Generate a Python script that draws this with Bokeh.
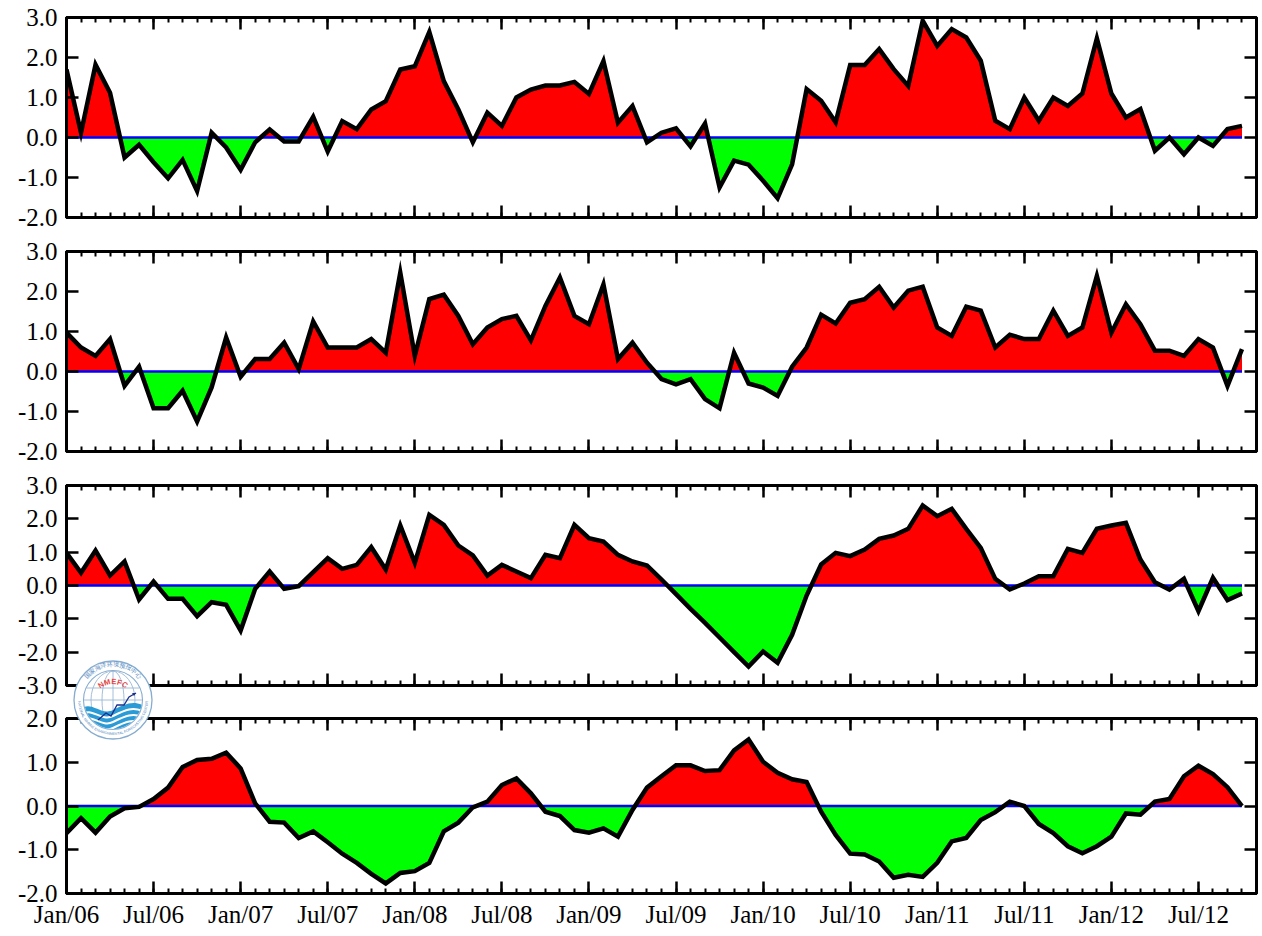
import numpy as np
from bokeh.plotting import figure
from bokeh.models import Range1d, FixedTicker, LinearAxis, PrintfTickFormatter, Div
from bokeh.layouts import column
from bokeh.embed import file_html
from bokeh.resources import INLINE

# ---------------- data ----------------
tick_labels = ["Jan/06", "Jul/06", "Jan/07", "Jul/07", "Jan/08", "Jul/08", "Jan/09",
               "Jul/09", "Jan/10", "Jul/10", "Jan/11", "Jul/11", "Jan/12", "Jul/12"]

s1 = [1.70, 0.12, 1.82, 1.12, -0.50, -0.18, -0.62, -1.02, -0.56, -1.34, 0.12, -0.25,
      -0.81, -0.12, 0.20, -0.10, -0.10, 0.52, -0.35, 0.41, 0.21, 0.70, 0.91, 1.70,
      1.78, 2.64, 1.41, 0.70, -0.12, 0.62, 0.29, 1.00, 1.20, 1.30, 1.30, 1.39,
      1.09, 1.91, 0.37, 0.79, -0.12, 0.12, 0.23, -0.22, 0.35, -1.25, -0.58, -0.68,
      -1.08, -1.52, -0.67, 1.21, 0.92, 0.38, 1.81, 1.81, 2.21, 1.71, 1.29, 2.92,
      2.29, 2.71, 2.50, 1.92, 0.42, 0.21, 1.00, 0.42, 1.00, 0.79, 1.10, 2.48,
      1.10, 0.50, 0.71, -0.33, 0.00, -0.42, 0.00, -0.21, 0.21, 0.29]

s2 = [0.97, 0.60, 0.39, 0.81, -0.36, 0.12, -0.92, -0.92, -0.48, -1.25, -0.40, 0.85,
      -0.13, 0.31, 0.31, 0.72, 0.06, 1.25, 0.60, 0.60, 0.60, 0.81, 0.47, 2.47,
      0.39, 1.81, 1.92, 1.39, 0.68, 1.10, 1.31, 1.39, 0.78, 1.64, 2.35, 1.39,
      1.18, 2.18, 0.31, 0.72, 0.22, -0.19, -0.32, -0.19, -0.69, -0.92, 0.47, -0.30,
      -0.40, -0.61, 0.12, 0.60, 1.42, 1.20, 1.72, 1.81, 2.12, 1.60, 2.02, 2.12,
      1.10, 0.89, 1.62, 1.52, 0.60, 0.92, 0.81, 0.81, 1.52, 0.89, 1.10, 2.39,
      0.97, 1.68, 1.18, 0.52, 0.52, 0.39, 0.81, 0.60, -0.36, 0.56]

s3 = [0.98, 0.38, 1.05, 0.30, 0.72, -0.42, 0.12, -0.40, -0.40, -0.92, -0.50, -0.58,
      -1.35, -0.10, 0.42, -0.10, -0.02, 0.40, 0.82, 0.50, 0.62, 1.15, 0.48, 1.80,
      0.68, 2.12, 1.82, 1.20, 0.90, 0.30, 0.62, 0.42, 0.22, 0.92, 0.82, 1.82,
      1.42, 1.32, 0.92, 0.72, 0.60, 0.18, -0.26, -0.70, -1.12, -1.56, -2.00, -2.43,
      -1.98, -2.32, -1.48, -0.30, 0.63, 0.98, 0.88, 1.08, 1.40, 1.50, 1.70, 2.40,
      2.08, 2.30, 1.70, 1.13, 0.20, -0.12, 0.06, 0.28, 0.28, 1.10, 0.98, 1.70,
      1.80, 1.88, 0.78, 0.10, -0.12, 0.20, -0.77, 0.23, -0.44, -0.24]

s4 = [-0.62, -0.28, -0.61, -0.24, -0.05, -0.02, 0.16, 0.42, 0.89, 1.05, 1.08, 1.22,
      0.86, 0.06, -0.36, -0.38, -0.73, -0.58, -0.83, -1.09, -1.30, -1.55, -1.77, -1.53,
      -1.49, -1.30, -0.58, -0.38, -0.03, 0.10, 0.48, 0.63, 0.29, -0.13, -0.23, -0.55,
      -0.61, -0.51, -0.70, -0.09, 0.42, 0.68, 0.93, 0.93, 0.80, 0.82, 1.27, 1.52,
      1.01, 0.76, 0.61, 0.55, -0.13, -0.66, -1.09, -1.11, -1.27, -1.64, -1.57, -1.62,
      -1.30, -0.81, -0.73, -0.32, -0.14, 0.10, 0.00, -0.41, -0.62, -0.92, -1.08, -0.92,
      -0.70, -0.17, -0.20, 0.10, 0.16, 0.68, 0.92, 0.73, 0.43, 0.00]

y_ranges = [(-2.0, 3.0), (-2.0, 3.0), (-3.0, 3.0), (-2.0, 2.0)]

# ---------------- layout constants (pixels) ----------------
FONT = "'Liberation Serif', 'Times New Roman', serif"
W = 1260
B_LEFT, B_RIGHT = 66, 4
# (border_top, frame_height, border_bottom)
geo = [(17, 200, 16), (18, 200, 16), (18, 200, 16), (17, 175, 37)]

n = len(s1)
months = np.arange(n, dtype=float)
major = list(range(0, 6 * len(tick_labels), 6))
minor = list(range(0, n + 1))


def split_fill(x, y):
    xs, ys = [x[0]], [y[0]]
    for k in range(len(y) - 1):
        y0, y1 = y[k], y[k + 1]
        if y0 * y1 < 0:
            t = y0 / (y0 - y1)
            xs.append(x[k] + t * (x[k + 1] - x[k]))
            ys.append(0.0)
        xs.append(x[k + 1])
        ys.append(y1)
    xs = np.array(xs)
    ys = np.array(ys)
    return xs, np.maximum(ys, 0.0), np.minimum(ys, 0.0)


def style_axis(ax, labels, with_minor, overrides=None):
    ax.axis_line_color = "black"
    ax.axis_line_width = 3
    ax.major_tick_in = 12
    ax.major_tick_out = 0
    ax.major_tick_line_width = 2.5
    ax.major_tick_line_color = "black"
    if with_minor:
        ax.minor_tick_in = 5
        ax.minor_tick_out = 0
        ax.minor_tick_line_width = 2
        ax.minor_tick_line_color = "black"
    else:
        ax.minor_tick_line_color = None
    if labels:
        ax.major_label_text_font = FONT
        ax.major_label_text_font_size = "25px"
        ax.major_label_text_color = "black"
    else:
        ax.major_label_text_font_size = "1px"
        ax.major_label_text_color = None
        ax.major_label_standoff = 0
    if overrides:
        ax.major_label_overrides = overrides


panels = []
series = [s1, s2, s3, s4]
for k, (s, yr, (bt, fh, bb)) in enumerate(zip(series, y_ranges, geo)):
    last = k == len(series) - 1
    p = figure(width=W, height=bt + fh + bb,
               x_range=Range1d(0, n), y_range=Range1d(*yr),
               output_backend="svg", toolbar_location=None,
               x_axis_location=None, y_axis_location=None,
               min_border_left=B_LEFT, min_border_right=B_RIGHT,
               min_border_top=bt, min_border_bottom=bb)
    p.xgrid.visible = False
    p.ygrid.visible = False
    p.outline_line_color = "black"
    p.outline_line_width = 3
    p.outline_line_alpha = 1.0
    p.background_fill_color = "white"
    p.border_fill_color = "white"

    xt = FixedTicker(ticks=major, minor_ticks=minor)
    yt = FixedTicker(ticks=list(np.arange(yr[0], yr[1] + 0.5, 1.0)))

    xb = LinearAxis(ticker=xt)
    style_axis(xb, last, True, {m: lab for m, lab in zip(major, tick_labels)} if last else None)
    if last:
        xb.major_label_standoff = 7
    p.add_layout(xb, "below")

    xa = LinearAxis(ticker=xt)
    style_axis(xa, False, True)
    p.add_layout(xa, "above")

    yl = LinearAxis(ticker=yt, formatter=PrintfTickFormatter(format="%.1f"))
    style_axis(yl, True, False)
    yl.major_label_standoff = 9
    p.add_layout(yl, "left")

    yrax = LinearAxis(ticker=yt)
    style_axis(yrax, False, False)
    p.add_layout(yrax, "right")

    xs, pos, neg = split_fill(months, np.array(s, dtype=float))
    p.varea(x=xs, y1=0.0, y2=pos, fill_color="#ff0000")
    p.varea(x=xs, y1=neg, y2=0.0, fill_color="#00ff00")
    p.line(x=[months[0], months[-1]], y=[0.0, 0.0], line_color="#0000ff", line_width=2.5)
    p.line(x=months, y=s, line_color="black", line_width=4.5, line_join="miter")
    panels.append(p)

# ---------------- NMEFC logo (decorative, overlaid between panels 3 and 4) ----------------
logo_svg = """
<svg width="80" height="80" viewBox="0 0 80 80" xmlns="http://www.w3.org/2000/svg" style="display:block">
 <defs>
  <clipPath id="lc"><circle cx="40" cy="40" r="29"/></clipPath>
  <path id="arcT" d="M 6.5,40 A 33.5,33.5 0 0 1 73.5,40"/>
  <path id="arcB" d="M 5,40 A 35,35 0 0 0 75,40"/>
  <path id="arcR" d="M 20,44 A 20,20 0 0 1 60,44"/>
 </defs>
 <circle cx="40" cy="40" r="39" fill="white" stroke="#86acd0" stroke-width="1.3"/>
 <circle cx="40" cy="40" r="29.5" fill="white" stroke="#86acd0" stroke-width="1.1"/>
 <text font-family="Noto Sans CJK SC" font-size="6" fill="#4d86c0">
  <textPath href="#arcT" startOffset="50%" text-anchor="middle">国家海洋环境预报中心</textPath></text>
 <text font-family="DejaVu Sans" font-size="3.6" fill="#4d86c0">
  <textPath href="#arcB" startOffset="50%" text-anchor="middle">NATIONAL MARINE ENVIRONMENTAL FORECASTING CENTER</textPath></text>
 <g clip-path="url(#lc)">
  <g fill="none" stroke="#9ab7d5" stroke-width="0.9">
   <ellipse cx="40" cy="40" rx="11" ry="29"/>
   <ellipse cx="40" cy="40" rx="22" ry="29"/>
   <line x1="40" y1="10" x2="40" y2="70"/>
   <line x1="10" y1="28" x2="70" y2="28"/>
   <line x1="10" y1="40" x2="70" y2="40"/>
  </g>
  <path d="M 8,49 C 18,40 28,56 40,50 S 60,40 72,46 L 72,72 L 8,72 Z" fill="#2b9bd6"/>
  <g fill="none" stroke="white" stroke-width="2">
   <path d="M 8,55 C 18,46 28,62 40,56 S 60,46 72,52"/>
   <path d="M 8,61 C 18,52 28,68 40,62 S 60,52 72,58"/>
   <path d="M 8,67 C 18,58 28,74 40,68 S 60,58 72,64"/>
  </g>
 </g>
 <text font-family="DejaVu Sans" font-size="7.5" font-weight="bold" fill="#e8423f" letter-spacing="0.3">
  <textPath href="#arcR" startOffset="50%" text-anchor="middle">NMEFC</textPath></text>
 <polyline points="25,60 33,53 38,56 44,45 51,45 56,37 63,33" fill="none" stroke="#1d2f8a" stroke-width="1.3"/>
 <polygon points="63,33 59,33 61,36" fill="#1d2f8a"/>
</svg>
"""
logo = Div(text=logo_svg, width=80, height=80,
           styles={"position": "absolute", "left": "73px", "top": "660px", "z-index": "10",
                   "margin": "0", "padding": "0"})

layout = column(*panels, logo, spacing=0)
open("out.html", "w").write(file_html(layout, INLINE))
